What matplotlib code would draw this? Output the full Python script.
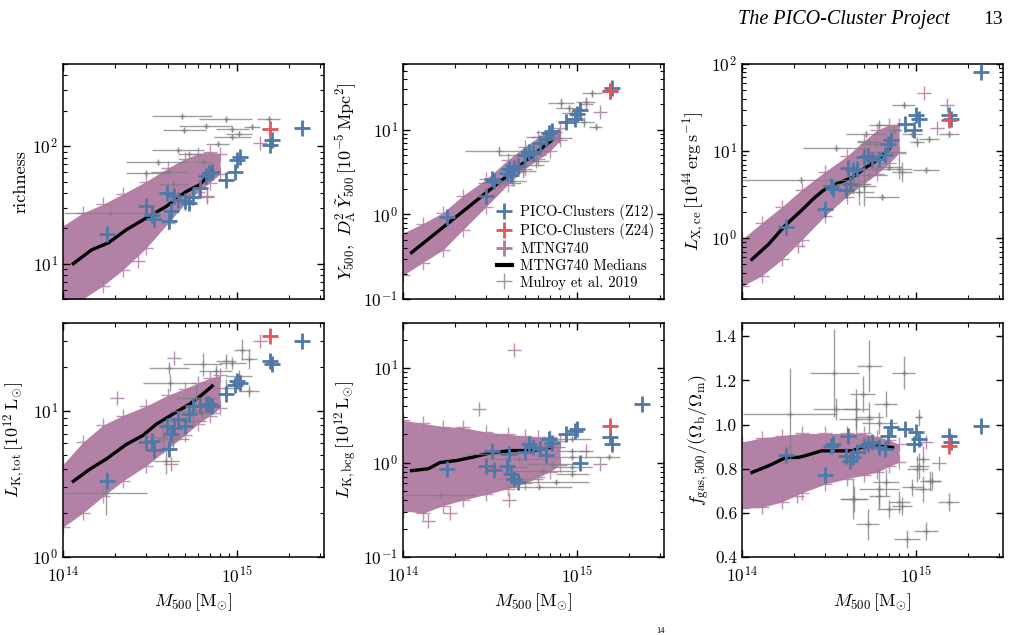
import numpy as np
import matplotlib
matplotlib.use("Agg")
import matplotlib.pyplot as plt
from matplotlib.ticker import NullFormatter, MultipleLocator
from matplotlib.lines import Line2D

plt.rcParams.update({
    "font.family": "serif",
    "font.serif": ["cmr10"],
    "mathtext.fontset": "cm",
    "axes.formatter.use_mathtext": True,
    "axes.unicode_minus": False,
    "axes.linewidth": 1.1,
    "font.size": 12,
})

# ---------------- PICO clusters (mass in 1e14 Msun) ----------------
pico_m = [1.78, 2.98, 3.25, 3.35, 3.95, 4.05, 4.15, 4.35, 4.6, 5.05, 5.3, 5.6,
          6.1, 6.6, 6.9, 7.2, 8.7, 9.7, 10.0, 10.4, 15.5, 15.8, 23.5]
pico_rich = [18, 31, 26, 24, 40, 23, 28, 38, 35, 34, 33, 37, 44, 56, 59, 60, 51,
             60, 76, 81, 103, 113, 142]
pico_y500 = [0.93, 1.65, 2.6, 2.5, 3.1, 3.4, 2.9, 3.5, 3.7, 5.1, 5.5, 5.3, 7.0,
             7.8, 9.2, 9.6, 12.5, 13.5, 15.5, 17.0, 29.0, 31.0, np.nan]
pico_lx = [1.35, 2.15, 4.0, 3.7, 3.6, 6.4, 4.2, 6.0, 6.3, 8.5, 8.8, 7.8, 8.1, 8.9,
           12.1, 13.3, 20.7, 17.3, 25.8, 23.6, 25.8, 23.6, 82.0]
pico_lktot = [3.3, 6.1, 6.2, 5.4, 7.9, 5.5, 6.9, 7.7, 8.8, 7.9, 9.5, 10.8, 10.8,
              11.1, 11.1, 10.8, 13.0, 15.0, 16.0, 15.5, 22.0, 21.0, 30.0]
pico_lkbcg = [0.86, 0.93, 1.34, 0.84, 0.93, 1.23, 0.76, 0.67, 0.62, 1.28, 1.57,
              1.45, 1.39, 1.19, 1.78, 1.6, 2.0, 2.17, 2.26, 1.0, 1.85, 1.57, 4.2]
pico_fgas = [0.863, 0.772, 0.904, 0.91, 0.858, 0.949, 0.836, 0.851, 0.874, 0.904,
             0.91, 0.919, 0.90, 0.889, 0.949, 0.987, 0.979, 0.911, 0.964, 0.934,
             0.949, 0.919, 0.994]

z24_m = [15.4]
z24_rich = [141]
z24_y500 = [29.0]
z24_lx = [22.6]
z24_lktot = [32.4]
z24_lkbcg = [2.45]
z24_fgas = [0.904]

# ---------------- MTNG740 cloud: envelope ----------------
env_m = [1.0, 1.3, 1.7, 2.2, 3.0, 4.0, 5.0, 6.0, 7.0, 8.0]
env_rich_lo = [4.0, 5.0, 6.5, 8.8, 13.5, 22, 32, 41, 49, 58]
env_rich_hi = [21, 27, 32, 39, 50, 65, 78, 86, 90, 86]
env_y500_lo = [0.19, 0.27, 0.38, 0.65, 1.23, 2.25, 3.45, 4.47, 5.6, 7.5]
env_y500_hi = [0.6, 0.78, 1.05, 1.66, 2.6, 4.4, 6.3, 8.2, 9.5, 10.5]
env_lx_lo = [0.28, 0.37, 0.57, 0.95, 1.8, 3.0, 4.2, 5.5, 7.2, 9.5]
env_lx_hi = [0.97, 1.5, 2.3, 3.6, 5.8, 8.7, 13.0, 17.5, 20.0, 20.0]
env_lktot_lo = [1.6, 2.0, 2.6, 3.3, 4.2, 5.5, 6.8, 8.2, 9.3, 10.5]
env_lktot_hi = [4.3, 6.1, 8.0, 9.3, 10.8, 12.8, 14.2, 15.6, 16.8, 17.5]
env_lkbcg_lo = [0.31, 0.29, 0.35, 0.40, 0.46, 0.53, 0.60, 0.70, 0.80, 0.95]
env_lkbcg_hi = [2.8, 2.6, 2.4, 2.35, 2.1, 2.0, 1.9, 1.85, 1.85, 1.7]
env_fgas_lo = [0.62, 0.625, 0.65, 0.69, 0.73, 0.755, 0.77, 0.785, 0.81, 0.83]
env_fgas_hi = [0.92, 0.94, 0.95, 0.96, 0.96, 0.96, 0.96, 0.945, 0.93, 0.91]

# MTNG740 isolated points
out_rich_m = [13.6, 6.76, 2.69, 6.7]
out_rich = [107, 38, 10.5, 37]
out_y500_m = [13.6, 11.2]
out_y500 = [16.4, 20.0]
out_lx_m = [11.1, 15.1, 13.2, 2.1]
out_lx = [46, 33.7, 18.2, 0.81]
out_lktot_m = [4.37, 2.03, 4.18, 13.6]
out_lktot = [23, 12.2, 4.3, 29.9]
out_lkbcg_m = [4.37, 2.75, 4.08, 13.6, 11.2, 1.86, 1.4]
out_lkbcg = [15.7, 3.67, 0.4, 0.97, 1.34, 0.29, 0.24]
out_fgas_m = [13.6, 2.06, 11.4]
out_fgas = [0.828, 0.677, 0.919]

# MTNG740 medians
med_rich_m = [1.146, 1.46, 1.82, 2.31, 3.0, 3.91, 5.09, 6.07, 6.92, 7.2]
med_rich = [10.0, 13.1, 15.0, 19.4, 24.4, 30.6, 41, 46.7, 56.7, 62.5]
med_y500_m = [1.12, 1.45, 1.8, 2.3, 3.0, 3.9, 5.1, 6.1, 7.2]
med_y500 = [0.354, 0.542, 0.774, 1.16, 1.80, 2.77, 4.30, 5.78, 7.6]
med_lx_m = [1.14, 1.42, 1.76, 2.24, 2.56, 2.92, 3.48, 4.32, 5.16, 6.15, 7.0]
med_lx = [0.57, 0.85, 1.38, 2.16, 2.81, 3.51, 4.2, 5.0, 6.5, 8.2, 10.6]
med_lktot_m = [1.146, 1.43, 1.78, 2.31, 2.88, 3.43, 4.27, 5.32, 6.34, 7.2]
med_lktot = [3.3, 4.0, 4.7, 5.9, 6.8, 8.1, 9.5, 11.1, 13.0, 14.8]
med_lkbcg_m = [1.12, 1.4, 1.63, 2.03, 2.52, 3.28, 4.27, 5.56, 7.2]
med_lkbcg = [0.82, 0.86, 1.0, 1.05, 1.14, 1.28, 1.34, 1.34, 1.45]
med_fgas_m = [1.14, 1.42, 1.79, 2.1, 2.29, 2.86, 3.48, 4.32, 4.83, 5.63, 7.33]
med_fgas = [0.783, 0.813, 0.851, 0.851, 0.858, 0.881, 0.881, 0.881, 0.896, 0.904, 0.896]

# ---------------- Mulroy et al. 2019 (mass, mass half-width [dex], value, value half-width) ----------------
mul_rich_m = [4.83, 8.61, 15.2, 6.62, 12.2, 9.4, 4.98, 9.4, 7.73, 4.56, 5.32, 3.51,
              6.34, 4.08, 3.0, 1.87, 4.27, 10.3]
mul_rich_mw = [.171, .152, .067, .152, .048, .095, .124, .105, .067, .149, .067,
               .181, .057, .105, .114, .267, .086, .076]
mul_rich = [179, 169, 171, 148, 146, 139, 136, 120, 105, 92.5, 85, 72.6, 73.6,
            60.5, 58.6, 26.9, 48, 128]
mul_rich_w = [0.02] * 18

mul_y500_m = [8.07, 9.0, 12.2, 11.2, 11.0, 12.8, 7.9, 6.34, 3.58, 4.87, 5.8, 4.98,
              3.58, 4.27, 4.87, 5.8, 6.92, 9.4]
mul_y500_mw = [.076, .076, .057, .057, .057, .038, .076, .095, .2, .133, .076, .114,
               .124, .076, .076, .076, .076, .057]
mul_y500 = [20.6, 18.0, 27, 21.5, 12.5, 10.9, 8.0, 8.3, 5.56, 5.08, 5.56, 3.87,
            2.36, 2.46, 3.24, 4.24, 9.55, 15.7]
mul_y500_w = [.059, .039, .039, .039, .059, .039, .059, .059, .059, .078, .059,
              .078, .059, .059, .078, .078, .078, .039]

mul_lx_m = [8.5, 6.15, 7.5, 9.5, 11.9, 15.4, 10.1, 5.4, 7.0, 8.3, 11.4, 5.4, 5.0,
            6.4, 3.48, 2.18, 5.16, 6.7, 4.33, 4.72, 8.0, 5.9, 5.9]
mul_lx_mw = [.067, .057, .046, .057, .057, .057, .04, .074, .074, .057, .074, .1,
             .074, .097, .19, .336, .114, .114, .095, .086, .076, .076, .095]
mul_lx = [33.7, 19.8, 17.5, 15.8, 13.9, 15.8, 12.7, 12.7, 6.5, 5.7, 6.0, 5.3, 4.0,
          2.94, 10.9, 4.66, 15.8, 9.7, 4.19, 3.36, 6.2, 6.2, 12.1]
mul_lx_w = [.035, .058, .035, .035, .035, .035, .058, .035, .035, .116, .035, .035,
            .23, .035, .035, .035, .035, .035, .116, .15, .116, .058, .035]

mul_lktot_m = [10.7, 8.6, 11.7, 9.4, 6.34, 7.55, 4.08, 10.3, 4.1, 11.7, 8.6, 5.8,
               5.55, 5.1, 3.74, 4.27, 1.76, 3.91, 6.3]
mul_lktot_mw = [.048, .057, .048, .076, .114, .095, .114, .076, .154, .057, .076,
                .114, .133, .114, .095, .095, .237, .076, .095]
mul_lktot = [26.3, 21.9, 22.6, 21.3, 20.8, 18.7, 19.7, 17.3, 15.6, 13.7, 14.4, 12.3,
             10.0, 8.55, 6.6, 6.4, 2.74, 4.57, 9.7]
mul_lktot_w = [.07, .05, .07, .04, .08, .04, .04, .04, .06, .04, .06, .09, .09,
               .05, .11, .06, .153, .09, .05]

mul_lkbcg_m = [3.28, 4.67, 9.4, 15.2, 9.4, 7.2, 9.4, 6.34, 9.4, 7.55, 6.07, 4.67,
               4.08, 1.63, 6.6, 9.4]
mul_lkbcg_mw = [.152, .152, .105, .067, .152, .152, .114, .19, .095, .19, .19, .133,
                .114, .21, .114, .095]
mul_lkbcg = [1.23, 1.09, 1.78, 1.14, 1.14, 0.97, 0.89, 0.82, 0.76, 0.62, 0.55, 0.67,
             0.89, 0.45, 1.45, 1.34]
mul_lkbcg_w = [0.02] * 16

mul_fgas_m = [1.88, 3.4, 3.47, 5.4, 8.5, 4.93, 6.7, 5.39, 4.52, 6.15, 10.4, 10.9,
              10.2, 12.1, 9.5, 6.7, 6.15, 8.0, 15.4, 4.42, 4.33, 5.27, 6.15, 7.0,
              8.35, 8.9, 11.4, 10.9, 12.4, 10.4, 4.52]
mul_fgas_mw = [.27, .14, .133, .072, .067, .07, .066, .076, .076, .1, .02, .04, .06,
               .06, .06, .076, .06, .06, .06, .076, .076, .067, .114, .067, .057,
               .076, .067, .05, .05, .057, .095]
mul_fgas = [1.047, 1.235, 1.072, 1.265, 1.235, 1.138, 1.092, 1.032, 1.07, 1.009,
            1.032, .843, .798, .745, .715, .738, .677, .648, .648, .662, .662, .549,
            .708, .617, .632, .481, .519, .708, .745, .813, 1.024]
mul_fgas_w = [.21, .2, .05, .117, .075, .08, .06, .07, .09, .05, .04, .06, .06, .045,
              .04, .06, .05, .05, .04, .06, .09, .07, .09, .04, .04, .04, .04, .06,
              .04, .06, .09]

# ---------------- styling ----------------
C_BLUE = "#4e79a7"
C_RED = "#e15759"
C_MAUVE = "#b07aa1"
C_GRAY = "#7f7f7f"
U = 1e14

W, H = 1011, 635
fig = plt.figure(figsize=(W / 100, H / 100), dpi=100)

col_left = [63, 403, 742]
ax_w = 261
rows = [(64, 299), (323, 557)]


def make_ax(r, c):
    top, bot = rows[r]
    return fig.add_axes([col_left[c] / W, 1 - bot / H, ax_w / W, (bot - top) / H])


panels = [
    dict(rc=(0, 0), pm=pico_rich, zm=z24_rich, elo=env_rich_lo, ehi=env_rich_hi,
         om=out_rich_m, ov=out_rich, mm=med_rich_m, mv=med_rich,
         gm=mul_rich_m, gmw=mul_rich_mw, gv=mul_rich, gw=mul_rich_w,
         ylim=(5, 500), log=True, ylabel="richness"),
    dict(rc=(0, 1), pm=pico_y500, zm=z24_y500, elo=env_y500_lo, ehi=env_y500_hi,
         om=out_y500_m, ov=out_y500, mm=med_y500_m, mv=med_y500,
         gm=mul_y500_m, gmw=mul_y500_mw, gv=mul_y500, gw=mul_y500_w,
         ylim=(0.1, 60), log=True,
         ylabel=r"$Y_{500},\ D_{\rm A}^2\,\tilde{Y}_{500}\,[10^{-5}\,{\rm Mpc}^2]$"),
    dict(rc=(0, 2), pm=pico_lx, zm=z24_lx, elo=env_lx_lo, ehi=env_lx_hi,
         om=out_lx_m, ov=out_lx, mm=med_lx_m, mv=med_lx,
         gm=mul_lx_m, gmw=mul_lx_mw, gv=mul_lx, gw=mul_lx_w,
         ylim=(0.2, 100), log=True,
         ylabel=r"$L_{\rm X,ce}\,[10^{44}\,{\rm erg\,s^{-1}}]$"),
    dict(rc=(1, 0), pm=pico_lktot, zm=z24_lktot, elo=env_lktot_lo, ehi=env_lktot_hi,
         om=out_lktot_m, ov=out_lktot, mm=med_lktot_m, mv=med_lktot,
         gm=mul_lktot_m, gmw=mul_lktot_mw, gv=mul_lktot, gw=mul_lktot_w,
         ylim=(1, 40), log=True,
         ylabel=r"$L_{\rm K,tot}\,[10^{12}\,{\rm L}_{\odot}]$"),
    dict(rc=(1, 1), pm=pico_lkbcg, zm=z24_lkbcg, elo=env_lkbcg_lo, ehi=env_lkbcg_hi,
         om=out_lkbcg_m, ov=out_lkbcg, mm=med_lkbcg_m, mv=med_lkbcg,
         gm=mul_lkbcg_m, gmw=mul_lkbcg_mw, gv=mul_lkbcg, gw=mul_lkbcg_w,
         ylim=(0.1, 30), log=True,
         ylabel=r"$L_{\rm K,bcg}\,[10^{12}\,{\rm L}_{\odot}]$"),
    dict(rc=(1, 2), pm=pico_fgas, zm=z24_fgas, elo=env_fgas_lo, ehi=env_fgas_hi,
         om=out_fgas_m, ov=out_fgas, mm=med_fgas_m, mv=med_fgas,
         gm=mul_fgas_m, gmw=mul_fgas_mw, gv=mul_fgas, gw=mul_fgas_w,
         ylim=(0.4, 1.46), log=False,
         ylabel=r"$f_{\rm gas,500}/(\Omega_{\rm b}/\Omega_{\rm m})$"),
]

pm_arr = np.array(pico_m) * U
z24_arr = np.array(z24_m) * U
env_arr = np.array(env_m) * U

for i, p in enumerate(panels):
    r, c = p["rc"]
    ax = make_ax(r, c)
    ax.set_xscale("log")
    if p["log"]:
        ax.set_yscale("log")

    # MTNG740 cloud
    ax.fill_between(env_arr, p["elo"], p["ehi"], color=C_MAUVE, alpha=0.95,
                    lw=0, zorder=1)
    ax.plot(env_arr, p["elo"], "+", color=C_MAUVE, ms=10, mew=1.0, alpha=0.8, zorder=1)
    ax.plot(env_arr, p["ehi"], "+", color=C_MAUVE, ms=10, mew=1.0, alpha=0.8, zorder=1)
    ax.plot(np.array(p["om"]) * U, p["ov"], "+", color=C_MAUVE, ms=10, mew=1.0,
            alpha=0.85, zorder=1, label="MTNG740")
    # medians
    ax.plot(np.array(p["mm"]) * U, p["mv"], "-", color="black", lw=2.4, zorder=2,
            label="MTNG740 Medians")
    # Mulroy
    gm = np.array(p["gm"]) * U
    gmw = np.array(p["gmw"])
    gv = np.array(p["gv"], dtype=float)
    gw = np.array(p["gw"])
    xerr = [gm - gm / 10 ** gmw, gm * 10 ** gmw - gm]
    if p["log"]:
        yerr = [gv - gv / 10 ** gw, gv * 10 ** gw - gv]
    else:
        yerr = gw
    ax.errorbar(gm, gv, xerr=xerr, yerr=yerr, fmt="+", color=C_GRAY, ms=4,
                elinewidth=1.0, mew=1.0, capsize=0, alpha=0.75, zorder=3,
                label="Mulroy et al. 2019")
    # PICO
    ax.plot(pm_arr, p["pm"], "+", color=C_BLUE, ms=11, mew=2.0, zorder=4,
            label="PICO-Clusters (Z12)")
    ax.plot(z24_arr, p["zm"], "+", color=C_RED, ms=11, mew=2.0, zorder=5,
            label="PICO-Clusters (Z24)")

    ax.set_xlim(1e14, 10 ** 15.5)
    ax.set_ylim(*p["ylim"])
    if not p["log"]:
        ax.yaxis.set_major_locator(MultipleLocator(0.2))
        ax.yaxis.set_major_formatter(plt.FormatStrFormatter("%.1f"))
    else:
        ax.yaxis.set_minor_formatter(NullFormatter())
    ax.xaxis.set_minor_formatter(NullFormatter())
    ax.tick_params(which="both", direction="in", top=True, right=True, labelsize=12.5)
    ax.tick_params(which="major", length=5, width=1.0)
    ax.tick_params(which="minor", length=2.8, width=0.8)
    ax.tick_params(axis="x", which="major", pad=6)
    ax.set_ylabel(p["ylabel"], fontsize=13, labelpad=3)
    if r == 1:
        ax.set_xlabel(r"$M_{500}\,[{\rm M}_{\odot}]$", fontsize=13, labelpad=4)
    else:
        ax.tick_params(labelbottom=False)

    if i == 1:
        handles = [
            Line2D([], [], ls="none", marker="+", color=C_BLUE, ms=11, mew=2.0),
            Line2D([], [], ls="none", marker="+", color=C_RED, ms=11, mew=2.0),
            Line2D([], [], ls="none", marker="+", color=C_MAUVE, ms=11, mew=2.0),
            Line2D([], [], ls="-", color="black", lw=3),
            Line2D([], [], ls="none", marker="+", color=C_GRAY, ms=11, mew=1.0, alpha=0.8),
        ]
        labels = ["PICO-Clusters (Z12)", "PICO-Clusters (Z24)", "MTNG740",
                  "MTNG740 Medians", "Mulroy et al. 2019"]
        ax.legend(handles, labels, loc="lower right", frameon=False, fontsize=10.5,
                  handlelength=1.0, handletextpad=0.6, labelspacing=0.2,
                  borderaxespad=0.25)

fig.text(950 / W, 1 - 24 / H, "The PICO-Cluster Project", ha="right", va="baseline",
         fontsize=14.5, family="Liberation Serif", style="italic")
fig.text(1003 / W, 1 - 24 / H, "13", ha="right", va="baseline", fontsize=14,
         family="Liberation Serif")
fig.text(656 / W, 0.0, "14", ha="left", va="bottom", fontsize=6,
         family="Liberation Serif")

fig.savefig("out.png", dpi=100)
